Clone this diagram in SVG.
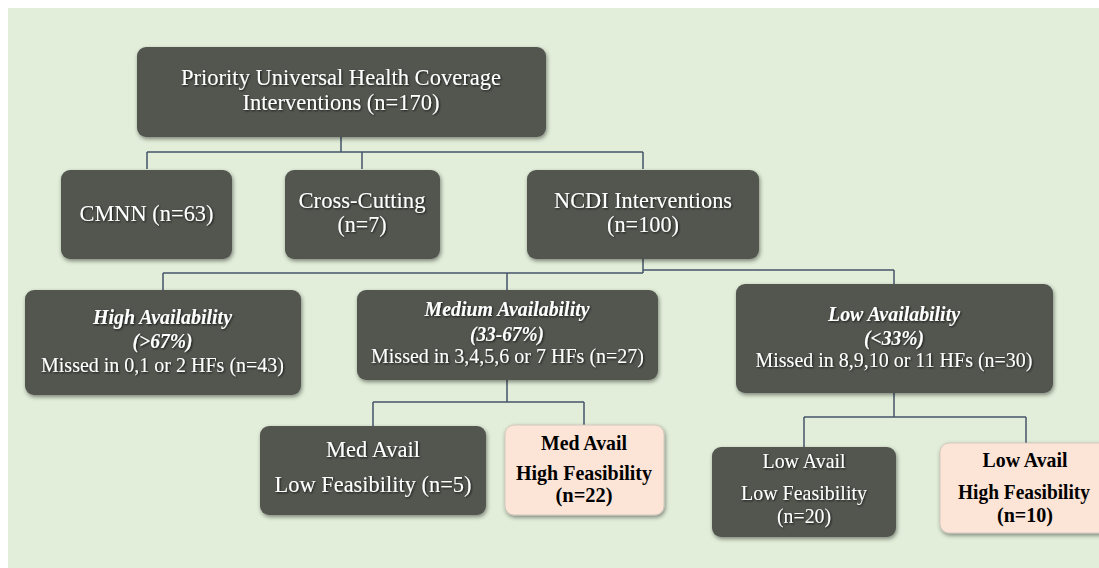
<svg xmlns="http://www.w3.org/2000/svg" width="1099" height="568" viewBox="0 0 1099 568">
<defs>
<filter id="sh" x="-10%" y="-15%" width="125%" height="140%"><feDropShadow dx="1" dy="2" stdDeviation="2.2" flood-color="#000" flood-opacity="0.45"/></filter>
<filter id="ts" x="-5%" y="-20%" width="110%" height="150%"><feDropShadow dx="1" dy="1" stdDeviation="0.8" flood-color="#000" flood-opacity="0.75"/></filter>
<style>
.dk{fill:#535750;filter:url(#sh)}
.pc{fill:#FCE4D6;stroke:#c9c0b8;stroke-width:0.8;filter:url(#sh)}
.wt{fill:#ffffff;font-family:"Liberation Serif","Times New Roman",serif;text-anchor:middle;filter:url(#ts)}
.bk{fill:#000000;font-family:"Liberation Serif","Times New Roman",serif;text-anchor:middle;font-weight:bold;font-size:21px}
.bi{font-weight:bold;font-style:italic;font-size:20px}
.ln{fill:none;stroke:#44546A;stroke-width:1.5}
</style>
</defs>
<rect x="8" y="8" width="1091" height="560" fill="#E2EED9"/>
<g id="connectors">
<path class="ln" d="M341,137 V152 M147,152 H643 M147,152 V169 M362,152 V169 M643,152 V169"/>
<path class="ln" d="M643,259 V273 M163,273 H643 M643,270 H894 M163,273 V290 M507,273 V290 M894,270 V284"/>
<path class="ln" d="M507,379 V402 M373,402 H584 M373,402 V426 M584,402 V425"/>
<path class="ln" d="M894,393 V417 M804,417 H1026 M804,417 V447 M1026,417 V443"/>
</g>
<g id="n-top">
<rect class="dk" x="137" y="47" width="409" height="90" rx="9"/>
<text class="wt" font-size="24" x="341" y="85" textLength="320" lengthAdjust="spacingAndGlyphs">Priority Universal Health Coverage</text>
<text class="wt" font-size="24" x="341" y="110" textLength="197" lengthAdjust="spacingAndGlyphs">Interventions (n=170)</text>
</g>
<g id="n-cmnn">
<rect class="dk" x="61" y="170" width="171" height="89" rx="9"/>
<text class="wt" font-size="24" x="146.5" y="221" textLength="134" lengthAdjust="spacingAndGlyphs">CMNN (n=63)</text>
</g>
<g id="n-cross">
<rect class="dk" x="285" y="170" width="155" height="89" rx="9"/>
<text class="wt" font-size="24" x="362" y="208" textLength="127" lengthAdjust="spacingAndGlyphs">Cross-Cutting</text>
<text class="wt" font-size="24" x="362" y="232" textLength="49" lengthAdjust="spacingAndGlyphs">(n=7)</text>
</g>
<g id="n-ncdi">
<rect class="dk" x="527" y="170" width="232" height="89" rx="9"/>
<text class="wt" font-size="24" x="643" y="208" textLength="178" lengthAdjust="spacingAndGlyphs">NCDI Interventions</text>
<text class="wt" font-size="24" x="643" y="232" textLength="72" lengthAdjust="spacingAndGlyphs">(n=100)</text>
</g>
<g id="n-high">
<rect class="dk" x="25" y="290" width="276" height="105" rx="9"/>
<text class="wt bi" x="162.5" y="324" textLength="139" lengthAdjust="spacingAndGlyphs">High Availability</text>
<text class="wt bi" x="162.5" y="348" textLength="60" lengthAdjust="spacingAndGlyphs">(&gt;67%)</text>
<text class="wt" font-size="21" x="162.5" y="372" textLength="243" lengthAdjust="spacingAndGlyphs">Missed in 0,1 or 2 HFs (n=43)</text>
</g>
<g id="n-medium">
<rect class="dk" x="357" y="290" width="301" height="90" rx="9"/>
<text class="wt bi" x="507" y="316" textLength="165" lengthAdjust="spacingAndGlyphs">Medium Availability</text>
<text class="wt bi" x="507" y="341" textLength="74" lengthAdjust="spacingAndGlyphs">(33-67%)</text>
<text class="wt" font-size="21" x="507.5" y="363" textLength="273" lengthAdjust="spacingAndGlyphs">Missed in 3,4,5,6 or 7 HFs (n=27)</text>
</g>
<g id="n-low">
<rect class="dk" x="736" y="284" width="317" height="109" rx="9"/>
<text class="wt bi" x="894" y="321" textLength="132" lengthAdjust="spacingAndGlyphs">Low Availability</text>
<text class="wt bi" x="894" y="345" textLength="60" lengthAdjust="spacingAndGlyphs">(&lt;33%)</text>
<text class="wt" font-size="21" x="894" y="367" textLength="277" lengthAdjust="spacingAndGlyphs">Missed in 8,9,10 or 11 HFs (n=30)</text>
</g>
<g id="n-med-low">
<rect class="dk" x="260" y="426" width="226" height="89" rx="9"/>
<text class="wt" font-size="23" x="373" y="457" textLength="94" lengthAdjust="spacingAndGlyphs">Med Avail</text>
<text class="wt" font-size="23" x="373" y="492" textLength="197" lengthAdjust="spacingAndGlyphs">Low Feasibility (n=5)</text>
</g>
<g id="n-med-high">
<rect class="pc" x="505" y="425" width="159" height="90" rx="9"/>
<text class="bk" x="584" y="450" textLength="86" lengthAdjust="spacingAndGlyphs">Med Avail</text>
<text class="bk" x="584" y="480" textLength="136" lengthAdjust="spacingAndGlyphs">High Feasibility</text>
<text class="bk" x="584" y="502" textLength="57" lengthAdjust="spacingAndGlyphs">(n=22)</text>
</g>
<g id="n-low-low">
<rect class="dk" x="712" y="447" width="184" height="90" rx="9"/>
<text class="wt" font-size="22" x="804" y="468" textLength="83" lengthAdjust="spacingAndGlyphs">Low Avail</text>
<text class="wt" font-size="22" x="804" y="500" textLength="126" lengthAdjust="spacingAndGlyphs">Low Feasibility</text>
<text class="wt" font-size="22" x="804" y="523" textLength="54" lengthAdjust="spacingAndGlyphs">(n=20)</text>
</g>
<g id="n-low-high">
<rect class="pc" x="940" y="443" width="172" height="90" rx="9"/>
<text class="bk" x="1025" y="467" textLength="85" lengthAdjust="spacingAndGlyphs">Low Avail</text>
<text class="bk" x="1024" y="499" textLength="132" lengthAdjust="spacingAndGlyphs">High Feasibility</text>
<text class="bk" x="1025" y="522" textLength="56" lengthAdjust="spacingAndGlyphs">(n=10)</text>
</g>
</svg>
